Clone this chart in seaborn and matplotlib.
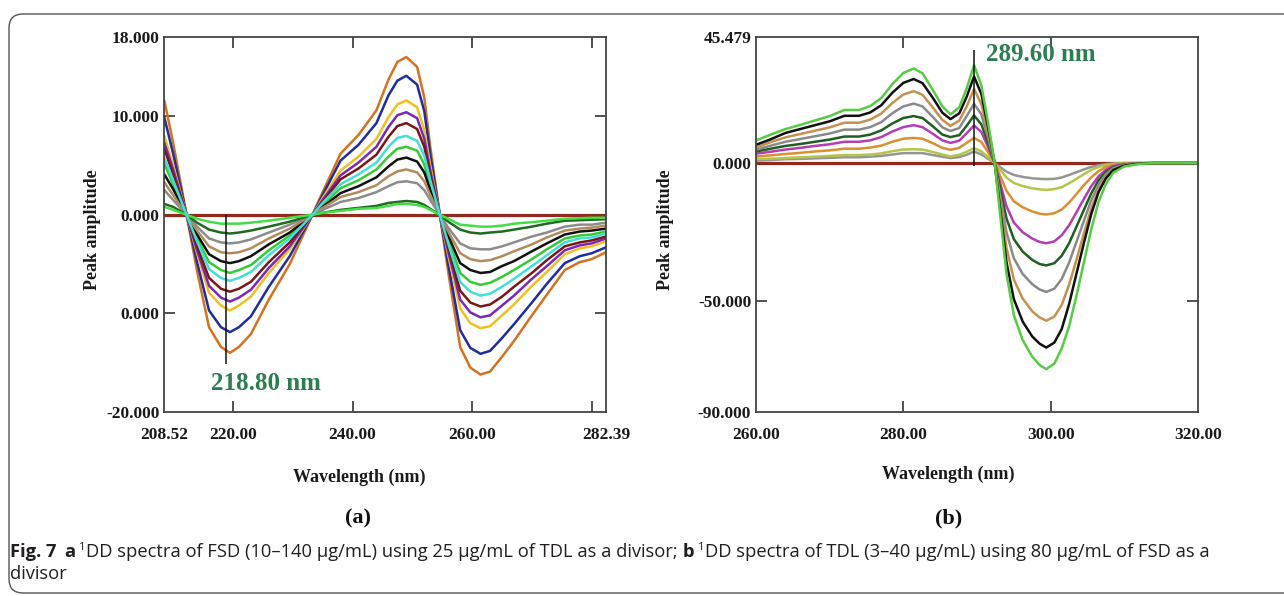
import pandas as pd
import seaborn as sns
import matplotlib.pyplot as plt
from matplotlib.patches import FancyBboxPatch
from matplotlib.transforms import IdentityTransform

sns.set_style("white")
plt.rcParams['font.family'] = ['Liberation Serif', 'DejaVu Serif']

W, H = 1284, 596

# ---------------- panel (a): FSD, divisor TDL ----------------
wl_a = [208.52, 210, 212.24, 214, 216, 218, 219.5, 221, 223, 226, 229.5, 233.3,
        235, 238, 241, 244, 246, 247.5, 249, 250.8, 252, 253, 254.6,
        256, 258, 259.7, 261.4, 263, 265, 267, 270, 272.5, 275.5, 278, 280, 282.39]

a_orange = [11.6, 7.3, 0, -5.7, -11.4, -13.4, -14.0, -13.4, -12.1, -8.6, -5.0, 0,
            2.3, 6.2, 8.1, 10.6, 13.7, 15.5, 16.0, 15.0, 11.9, 6.9, 0,
            -5.8, -13.4, -15.5, -16.2, -15.9, -14.4, -12.8, -10.2, -8.1, -5.6, -4.8, -4.5, -3.8]
a_blue = [9.9, 6.2, 0, -4.8, -9.7, -11.4, -11.9, -11.4, -10.3, -7.3, -4.2, 0,
          2.0, 5.5, 7.1, 9.3, 12.1, 13.6, 14.1, 13.2, 10.5, 6.1, 0,
          -5.0, -11.7, -13.5, -14.1, -13.8, -12.5, -11.1, -8.9, -7.0, -4.9, -4.2, -3.9, -3.3]
a_gold = [8.0, 5.0, 0, -3.9, -7.9, -9.2, -9.7, -9.2, -8.3, -5.9, -3.5, 0,
          1.7, 4.5, 5.9, 7.7, 9.9, 11.2, 11.6, 10.9, 8.6, 5.0, 0,
          -4.1, -9.5, -11.0, -11.5, -11.3, -10.2, -9.1, -7.2, -5.8, -4.0, -3.4, -3.2, -2.7]
a_purple = [7.3, 4.6, 0, -3.6, -7.2, -8.4, -8.8, -8.4, -7.6, -5.4, -3.2, 0,
            1.5, 4.0, 5.3, 6.9, 8.9, 10.1, 10.4, 9.8, 7.7, 4.5, 0,
            -3.7, -8.6, -9.9, -10.4, -10.2, -9.2, -8.2, -6.5, -5.2, -3.6, -3.1, -2.9, -2.4]
a_maroon = [6.7, 4.1, 0, -3.2, -6.4, -7.5, -7.8, -7.5, -6.8, -4.8, -2.8, 0,
            1.3, 3.6, 4.7, 6.1, 7.9, 9.0, 9.3, 8.7, 6.9, 4.0, 0,
            -3.3, -7.7, -8.9, -9.3, -9.1, -8.3, -7.3, -5.9, -4.6, -3.2, -2.8, -2.6, -2.2]
a_cyan = [5.8, 3.5, 0, -2.7, -5.5, -6.4, -6.7, -6.4, -5.8, -4.1, -2.4, 0,
          1.2, 3.1, 4.1, 5.3, 6.9, 7.8, 8.0, 7.5, 6.0, 3.5, 0,
          -2.9, -6.8, -7.8, -8.2, -8.0, -7.3, -6.5, -5.2, -4.1, -2.8, -2.4, -2.3, -1.9]
a_green = [5.2, 3.1, 0, -2.4, -4.8, -5.6, -5.9, -5.6, -5.1, -3.6, -2.1, 0,
           1.0, 2.7, 3.5, 4.6, 5.9, 6.7, 6.9, 6.5, 5.1, 3.0, 0,
           -2.5, -5.9, -6.8, -7.1, -6.9, -6.3, -5.6, -4.5, -3.5, -2.4, -2.1, -2.0, -1.7]
a_black = [4.1, 2.6, 0, -2.0, -4.0, -4.7, -4.9, -4.7, -4.2, -3.0, -1.8, 0,
           0.8, 2.2, 2.9, 3.8, 4.9, 5.6, 5.8, 5.4, 4.3, 2.5, 0,
           -2.1, -4.9, -5.6, -5.9, -5.8, -5.2, -4.7, -3.7, -2.9, -2.0, -1.7, -1.6, -1.4]
a_tan = [3.3, 2.0, 0, -1.6, -3.2, -3.8, -3.9, -3.8, -3.4, -2.4, -1.4, 0,
         0.7, 1.8, 2.3, 3.0, 3.9, 4.4, 4.6, 4.3, 3.4, 2.0, 0,
         -1.7, -3.9, -4.5, -4.7, -4.6, -4.2, -3.7, -3.0, -2.3, -1.6, -1.4, -1.3, -1.1]
a_gray = [2.5, 1.5, 0, -1.2, -2.4, -2.8, -2.9, -2.8, -2.5, -1.8, -1.0, 0,
          0.5, 1.3, 1.7, 2.3, 2.9, 3.3, 3.4, 3.2, 2.5, 1.5, 0,
          -1.3, -2.9, -3.4, -3.5, -3.5, -3.2, -2.8, -2.2, -1.8, -1.2, -1.0, -1.0, -0.8]
a_dkgreen = [1.1, 0.8, 0, -0.8, -1.5, -1.8, -1.9, -1.8, -1.6, -1.2, -0.7, 0,
             0.2, 0.5, 0.7, 0.9, 1.2, 1.3, 1.4, 1.3, 1.0, 0.6, 0,
             -0.7, -1.5, -1.8, -1.9, -1.8, -1.7, -1.5, -1.2, -0.9, -0.6, -0.55, -0.5, -0.45]
a_ltgreen = [0.8, 0.5, 0, -0.4, -0.7, -0.9, -0.9, -0.9, -0.8, -0.6, -0.3, 0,
             0.2, 0.4, 0.6, 0.7, 0.9, 1.1, 1.1, 1.0, 0.8, 0.5, 0,
             -0.4, -1.0, -1.1, -1.2, -1.2, -1.1, -0.9, -0.75, -0.6, -0.4, -0.35, -0.3, -0.3]

curves_a = {
    "orange": a_orange, "blue": a_blue, "gold": a_gold, "purple": a_purple,
    "maroon": a_maroon, "green": a_green, "black": a_black, "tan": a_tan,
    "gray": a_gray, "dkgreen": a_dkgreen, "ltgreen": a_ltgreen, "cyan": a_cyan,
}
colors_a = {
    "orange": "#d4721f", "blue": "#1f2d9e", "gold": "#f0c020", "purple": "#7a28b8",
    "maroon": "#7b1616", "cyan": "#40e0d8", "green": "#33cc33", "black": "#111111",
    "tan": "#b58a5a", "gray": "#8c8c8c", "dkgreen": "#1e6b1e", "ltgreen": "#44dd44",
}

# ---------------- panel (b): TDL, divisor FSD ----------------
wl_b = [260, 262, 264, 266, 268, 270, 272, 274, 275.5, 277, 278.5, 280, 281.4, 282.6,
        284, 285.3, 286.4, 287.6, 288.6, 289.6, 290.6, 291.5, 292.4,
        293.2, 294, 295, 296.2, 297.5, 298.5, 299.4, 300.5, 301.5, 302.5, 303.5,
        304.5, 305.5, 306.5, 307.5, 308.5, 310, 312, 314, 317, 320]

b_ltgreen = [8.2, 10.3, 12.3, 13.8, 15.4, 17.0, 19.2, 19.2, 20.6, 23.5, 28.5, 32.6, 34.2, 32.5,
             26.5, 20.5, 17.6, 20.2, 27.0, 35.4, 28.0, 14.6, 0,
             -20, -40, -55, -64, -70, -73, -74.5, -72.5, -67, -59, -48,
             -36, -24, -14, -7.5, -3.5, -1.2, -0.3, 0, 0, 0]
b_black = [6.6, 8.6, 10.9, 12.3, 13.7, 15.1, 17.1, 17.1, 18.3, 20.9, 25.4, 29.0, 30.4, 28.9,
           23.6, 18.2, 15.9, 18.0, 24.0, 31.3, 24.9, 13.0, 0,
           -17.9, -35.8, -49.2, -57.3, -62.7, -65.3, -66.7, -64.9, -60.0, -51.0, -40.0,
           -29.0, -18.5, -10.5, -5.5, -2.5, -0.9, -0.2, 0, 0, 0]
b_tan = [5.6, 7.6, 9.3, 10.5, 11.7, 12.9, 14.6, 14.6, 15.7, 17.9, 21.7, 24.8, 26.0, 24.7,
         20.1, 15.6, 13.4, 15.4, 20.5, 26.8, 21.3, 11.1, 0,
         -15.3, -30.6, -42.1, -49.0, -53.6, -55.8, -57.0, -55.5, -51.3, -44.0, -35.0,
         -25.5, -16.5, -9.5, -5.0, -2.3, -0.8, -0.2, 0, 0, 0]
b_gray2 = [4.8, 6.3, 7.7, 8.7, 9.7, 10.7, 12.1, 12.1, 13.0, 14.8, 18.0, 20.5, 21.5, 20.5,
           16.7, 12.9, 11.6, 12.7, 17.0, 21.4, 17.6, 9.2, 0,
           -12.5, -25.0, -34.4, -40.1, -43.8, -45.7, -46.6, -45.4, -41.9, -36.0, -28.5,
           -21.0, -13.5, -7.8, -4.0, -1.8, -0.6, -0.1, 0, 0, 0]
b_dkgreen = [4.2, 5.2, 6.2, 6.9, 7.7, 8.5, 9.6, 9.6, 10.3, 11.8, 14.3, 16.3, 17.0, 16.3,
             13.3, 10.3, 9.4, 10.1, 13.5, 17.2, 14.0, 7.3, 0,
             -10.0, -20.0, -27.5, -32.0, -35.0, -36.5, -37.0, -36.2, -33.5, -29.0, -23.0,
             -17.0, -11.0, -6.2, -3.2, -1.5, -0.5, -0.1, 0, 0, 0]
b_magenta = [3.4, 4.1, 4.9, 5.5, 6.2, 6.8, 7.7, 7.7, 8.2, 9.4, 11.4, 13.0, 13.7, 13.0,
             10.6, 8.2, 7.3, 8.1, 10.8, 13.6, 11.2, 5.8, 0,
             -7.8, -15.6, -21.5, -25.0, -27.3, -28.5, -29.0, -28.3, -26.1, -22.5, -17.8,
             -13.0, -8.4, -4.8, -2.4, -1.1, -0.4, -0.1, 0, 0, 0]
b_orange = [2.4, 2.8, 3.3, 3.7, 4.2, 4.6, 5.2, 5.2, 5.6, 6.3, 7.7, 8.8, 9.1, 8.8,
            7.2, 5.5, 4.8, 5.5, 7.3, 9.1, 7.6, 3.9, 0,
            -5.0, -10.0, -13.8, -16.0, -17.5, -18.3, -18.6, -18.1, -16.8, -14.3, -11.2,
            -8.0, -5.2, -2.9, -1.4, -0.6, -0.2, 0, 0, 0, 0]
b_yellowgreen = [1.5, 1.6, 1.8, 2.1, 2.3, 2.6, 2.9, 2.9, 3.1, 3.5, 4.3, 4.9, 5.0, 4.9,
                 4.0, 3.1, 2.4, 3.0, 4.1, 5.4, 4.2, 2.2, 0,
                 -2.6, -5.2, -7.2, -8.3, -9.1, -9.5, -9.7, -9.4, -8.7, -7.3, -5.7,
                 -4.0, -2.5, -1.4, -0.7, -0.3, -0.1, 0, 0, 0, 0]
b_gray1 = [0.9, 1.1, 1.4, 1.5, 1.7, 1.9, 2.1, 2.1, 2.3, 2.6, 3.1, 3.6, 3.6, 3.6,
           2.9, 2.3, 1.8, 2.2, 3.0, 4.2, 3.1, 1.6, 0,
           -1.6, -3.1, -4.3, -5.0, -5.5, -5.7, -5.8, -5.7, -5.2, -4.3, -3.3,
           -2.3, -1.4, -0.8, -0.4, -0.2, 0, 0, 0, 0, 0]

curves_b = {
    "ltgreen": b_ltgreen, "black": b_black, "tan": b_tan, "gray2": b_gray2,
    "dkgreen": b_dkgreen, "magenta": b_magenta, "orange": b_orange,
    "yellowgreen": b_yellowgreen, "gray1": b_gray1,
}
colors_b = {
    "ltgreen": "#55cc44", "black": "#111111", "tan": "#c8904e", "gray2": "#8a8a8a",
    "dkgreen": "#1f5f1f", "magenta": "#b53cb5", "orange": "#d89030",
    "yellowgreen": "#b5c44a", "gray1": "#959595",
}

marker_a, marker_a_span, label_a = 218.8, (0, -15.1), "218.80 nm"
marker_b, marker_b_span, label_b = 289.6, (-1.2, 41.0), "289.60 nm"
green_txt = "#2b7e52"


def long_frame(wl, curves):
    rows = []
    for name, vals in curves.items():
        assert len(vals) == len(wl), name
        for w, v in zip(wl, vals):
            rows.append((name, w, v))
    return pd.DataFrame(rows, columns=["curve", "wavelength", "amplitude"])


def style_axes(ax, xlim, ylim, xmajor, xlabels, ymajor, ylabels, xminor, yminor):
    ax.set_xlim(*xlim)
    ax.set_ylim(*ylim)
    ax.set_xticks(xmajor)
    ax.set_xticklabels(xlabels)
    ax.set_yticks(ymajor)
    ax.set_yticklabels(ylabels)
    ax.set_xticks(xminor, minor=True)
    ax.set_yticks(yminor, minor=True)
    ax.xaxis.remove_overlapping_locs = False
    ax.yaxis.remove_overlapping_locs = False
    ax.tick_params(axis='x', which='major', length=0, labelsize=12.5, pad=10.5)
    ax.tick_params(axis='y', which='major', length=0, labelsize=12.5, pad=3.5)
    ax.tick_params(which='minor', direction='in', length=8, width=1.2, color='#333333',
                   top=True, right=True, bottom=True, left=True)
    for lab in ax.get_xticklabels() + ax.get_yticklabels():
        lab.set_fontweight('bold')
        lab.set_color('#1a1a1a')
    for s in ax.spines.values():
        s.set_color('#444444')
        s.set_linewidth(1.3)
        s.set_visible(True)
    ax.set_xlabel('')
    ax.set_ylabel('')


fig = plt.figure(figsize=(W / 100, H / 100), dpi=100)
fig.patch.set_facecolor('white')

ax_a = fig.add_axes([164.3 / W, 1 - 412 / H, (606 - 164.3) / W, (412 - 37.3) / H])
ax_b = fig.add_axes([756 / W, 1 - 412 / H, (1198 - 756) / W, (412 - 37.3) / H])

for ax in (ax_a, ax_b):
    ax.axhline(0, color='#92281f', lw=2.3, zorder=1.5)

df_a = long_frame(wl_a, curves_a)
sns.lineplot(data=df_a, x="wavelength", y="amplitude", hue="curve",
             hue_order=list(curves_a), palette=colors_a, estimator=None,
             sort=False, legend=False, lw=1.8, ax=ax_a)

df_b = long_frame(wl_b, curves_b)
sns.lineplot(data=df_b, x="wavelength", y="amplitude", hue="curve",
             hue_order=list(curves_b)[::-1], palette=colors_b, estimator=None,
             sort=False, legend=False, lw=1.8, ax=ax_b)

style_axes(ax_a, (208.52, 282.39), (-20, 18),
           [208.52, 220, 240, 260, 282.39], ["208.52", "220.00", "240.00", "260.00", "282.39"],
           [18, 10, 0, -10, -20], ["18.000", "10.000", "0.000", "0.000", "-20.000"],
           [220, 240, 260, 280], [10, 0, -10])
style_axes(ax_b, (260, 320), (-90, 45.479),
           [260, 280, 300, 320], ["260.00", "280.00", "300.00", "320.00"],
           [45.479, 0, -50, -90], ["45.479", "0.000", "-50.000", "-90.000"],
           [280, 300], [0, -50])

ax_a.vlines(marker_a, *marker_a_span, color='#111111', lw=1.1, zorder=4)
ax_a.text(216.4, -17.1, label_a, color=green_txt, fontsize=18, fontweight='bold',
          ha='left', va='center')
ax_b.vlines(marker_b, *marker_b_span, color='#111111', lw=1.1, zorder=4)
ax_b.text(291.2, 39.4, label_b, color=green_txt, fontsize=18, fontweight='bold',
          ha='left', va='center')


def ftext(x, y, s, **kw):
    return fig.text(x / W, 1 - y / H, s, **kw)


for (xl, yl), (xp, yp) in [((359, 477), (93, 230)), ((948, 474), (665.5, 230))]:
    ftext(xl, yl, "Wavelength (nm)", fontsize=13, fontweight='bold', ha='center', va='center',
          color='#1a1a1a')
    ftext(xp, yp, "Peak amplitude", fontsize=13, fontweight='bold', ha='center', va='center',
          rotation=90, color='#1a1a1a')
ftext(358, 518, "(a)", fontsize=16, fontweight='bold', ha='center', va='center', color='#111111')
ftext(949, 518, "(b)", fontsize=16, fontweight='bold', ha='center', va='center', color='#111111')

# rounded frame around the figure block (right side runs off the page)
frame = FancyBboxPatch((9, H - 593), 1320, 593 - 14, boxstyle="round,pad=0,rounding_size=14",
                       transform=IdentityTransform(), fc='none', ec='#555555', lw=1.0)
fig.patches.append(frame)

# caption, drawn piece by piece for the bold / superscript parts
cap_font = ['Open Sans', 'DejaVu Sans']
cap_size = 13.2
renderer = fig.canvas.get_renderer()


def caption_line(pieces, x0, baseline):
    x = x0
    for txt, weight, size, rise, gap in pieces:
        t = fig.text(x / W, (H - baseline + rise) / H, txt, fontsize=size, fontweight=weight,
                     family=cap_font, ha='left', va='baseline', color='#231f20')
        x = t.get_window_extent(renderer=renderer).x1 + gap


line1 = [
    ("Fig. 7", 'bold', cap_size, 0, 8),
    ("a", 'bold', cap_size, 0, 3),
    ("1", 'normal', cap_size * 0.62, 7, 1),
    ("DD spectra of FSD (10\u2013140 \u00b5g/mL) using 25 \u00b5g/mL of TDL as a divisor;", 'normal', cap_size, 0, 5),
    ("b", 'bold', cap_size, 0, 3),
    ("1", 'normal', cap_size * 0.62, 7, 1),
    ("DD spectra of TDL (3\u201340 \u00b5g/mL) using 80 \u00b5g/mL of FSD as a", 'normal', cap_size, 0, 0),
]
caption_line(line1, 10, 557)
caption_line([("divisor", 'normal', cap_size, 0, 0)], 10, 579)

fig.savefig('out.png', dpi=100, facecolor='white')
